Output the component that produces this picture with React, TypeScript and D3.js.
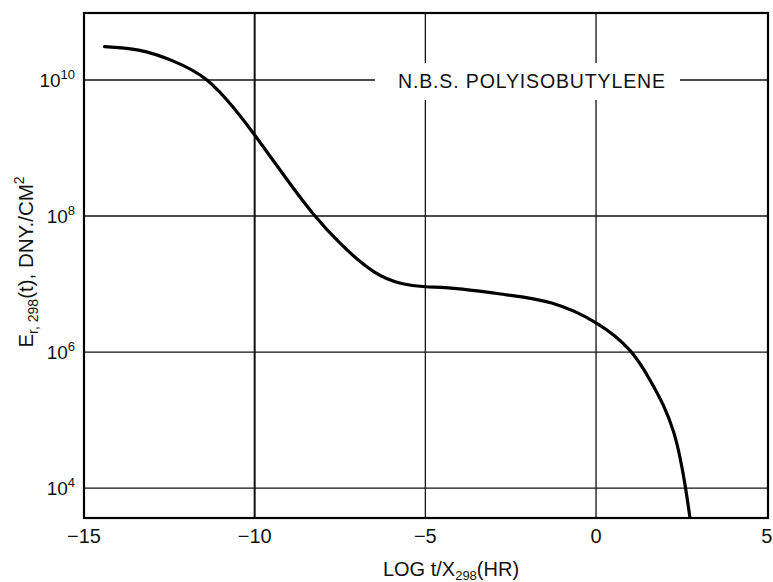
import React from "react";
import * as d3 from "d3";

const logTime: number[] = [-14.4, -13.4, -12.4, -11.4, -10.6, -10, -9, -8.3, -7.5, -6.5, -5.7, -5, -4, -2.6, -1.3, 0, 1, 1.58, 1.97, 2.27, 2.46, 2.61, 2.75];
const modulus: number[] = [3.09e10, 2.75e10, 1.91e10, 1.0e10, 3.8e9, 1.55e9, 3.16e8, 1.1e8, 3.98e7, 1.51e7, 1.02e7, 9.12e6, 8.51e6, 6.92e6, 5.25e6, 2.69e6, 1.05e6, 3.89e5, 1.66e5, 6.76e4, 2.82e4, 1.1e4, 3.72e3];
const xTicks: number[] = [-15, -10, -5, 0, 5];
const xTickLabels: string[] = ["\u221215", "\u221210", "\u22125", "0", "5"];
const yTicks: number[] = [1e4, 1e6, 1e8, 1e10];
const yTickExps: string[] = ["4", "6", "8", "10"];
const gridX: number[] = [-10, -5, 0];
const seriesLabel = "N.B.S. POLYISOBUTYLENE";

const W = 773, H = 582;
const L = 84, R = 768, T = 13, B = 518;
const FONT = "'Liberation Sans', Arial, Helvetica, sans-serif";

export default function App() {
  const x = d3.scaleLinear().domain([-15, 5]).range([L, R - 1.3]);
  const y = d3.scaleLog().domain([Math.pow(10, 3.56), Math.pow(10, 10.985)]).range([B, T]);
  const pts = logTime.map((t, i) => [t, modulus[i]] as [number, number]);
  const line = d3.line<[number, number]>().x(d => x(d[0])).y(d => y(d[1])).curve(d3.curveNatural);

  return (
    <svg width={W} height={H} style={{ position: "absolute", left: 0, top: 0 }} fontFamily={FONT}>
      <rect x={0} y={0} width={W} height={H} fill="#fff" />
      {yTicks.map(v => (
        <line key={"gy" + v} x1={L} x2={R} y1={y(v)} y2={y(v)} stroke="#111" strokeWidth={1.3} />
      ))}
      {gridX.map(v => (
        <line key={"gx" + v} x1={x(v)} x2={x(v)} y1={T} y2={B} stroke="#111" strokeWidth={v === -10 ? 2 : 1.3} />
      ))}
      <rect x={375} y={63} width={305} height={37} fill="#fff" />
      <text x={398} y={88} fontSize={19.5} textLength={267} lengthAdjust="spacing" fill="#111">{seriesLabel}</text>
      <path d={line(pts) || ""} fill="none" stroke="#000" strokeWidth={3.2} strokeLinecap="round" />
      <rect x={L} y={T} width={R - L} height={B - T} fill="none" stroke="#000" strokeWidth={2.2} />
      {xTicks.map((v, i) => (
        <text key={"xt" + v} x={x(v)} y={543} fontSize={20} textAnchor="middle" fill="#111">{xTickLabels[i]}</text>
      ))}
      {yTicks.map((v, i) => (
        <text key={"yt" + v} x={75} y={y(v) + 7} fontSize={19} textAnchor="end" fill="#111">
          10<tspan fontSize={13} dy={-8}>{yTickExps[i]}</tspan>
        </text>
      ))}
      <text x={451} y={576} fontSize={20} textAnchor="middle" fill="#111">
        LOG t/X<tspan fontSize={13} dy={4}>298</tspan><tspan dy={-4}>(HR)</tspan>
      </text>
      <text transform="translate(33,262) rotate(-90)" fontSize={20.5} textAnchor="middle" fill="#111">
        E<tspan fontSize={14} dy={5}>r, 298</tspan><tspan dy={-5}>(t), DNY./CM</tspan><tspan fontSize={14} dy={-9}>2</tspan>
      </text>
    </svg>
  );
}
